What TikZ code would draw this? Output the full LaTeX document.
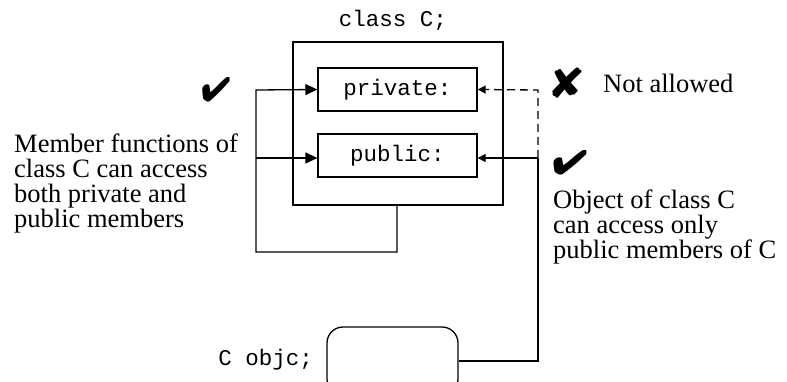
\documentclass[tikz,border=0pt]{standalone}
\usepackage{fontspec}
\setmainfont{Liberation Serif}
\setmonofont{Liberation Mono}
\usepackage{pifont}
\usetikzlibrary{arrows.meta}

% a heavier dingbat: the glyph set twice, slightly offset
\newcommand{\heavyding}[1]{\rlap{\ding{#1}}\hspace{0.9pt}\ding{#1}}

\begin{document}
\begin{tikzpicture}[x=1pt, y=-1pt,
  code/.style={font=\ttfamily\fontsize{22.5}{24}\selectfont},
  note/.style={font=\fontsize{26.5}{25}\selectfont, align=left, inner sep=0pt},
  member/.style={draw, wire, code, inner sep=0pt, minimum width=159pt, minimum height=43pt},
  sign/.style={inner sep=0pt, font=\fontsize{34}{34}\selectfont},
  bigtip/.style={-{Triangle[length=12pt, width=11pt]}},
  smalltip/.style={-{Triangle[length=8pt, width=8pt]}},
  wire/.style={line width=1.3pt}]
  \useasboundingbox (0,0) rectangle (787,382);
  \clip (0,0) rectangle (787,382);

  % class C with its two access sections
  \node[code, anchor=base] (title) at (393,27) {class C;};
  \node[draw, wire, inner sep=0pt, minimum width=210pt, minimum height=163pt] (cls) at (398,123.5) {};
  \node[member] (priv) at (397.5,89.5) {private:};
  \node[member] (pub) at (397.5,155.5) {public:};

  % object of class C
  \node[draw, wire, rounded corners=16pt, inner sep=0pt, minimum width=131pt, minimum height=68pt] (obj) at (392.5,361) {};
  \node[code, anchor=east, inner sep=0pt] (objlabel) at (313,360) {C objc;};

  % member functions reach both sections
  \coordinate (la) at (256,90);
  \coordinate (lb) at (256,158);
  \coordinate (lc) at (397,252);
  \coordinate (ld) at (256,252);
  \draw[wire, bigtip] (cls.south -| lc) -- (lc) -- (ld) -- (la) -- (priv.west);
  \draw[wire, bigtip] (lb) -- (lb -| pub.west);

  % the object reaches only the public section
  \coordinate (rt) at (538,90);
  \coordinate (rm) at (538,158);
  \draw[wire] (obj.east) -| (rm);
  \draw[wire, smalltip] (rm) -- (rm -| pub.east);
  \draw[wire, dash pattern=on 8pt off 5pt, smalltip] (rm) -- (rt) -- (priv.east);

  % check marks, cross and notes
  \node[sign] (okleft) at (216,90) {\heavyding{52}};
  \node[sign, xscale=1.2] (okright) at (570,163) {\heavyding{52}};
  \node[sign, font=\fontsize{42}{42}\selectfont, xscale=1.12] (no) at (567,83) {\heavyding{56}};
  \node[note, anchor=base west] (notallowed) at (603,93) {Not allowed};
  \node[note, anchor=north west] (leftnote) at (14,134)
    {Member functions of\\class C can access\\both private and\\public members};
  \node[note, anchor=north west] (rightnote) at (553,190)
    {Object of class C\\can access only\\public members of C};
\end{tikzpicture}
\end{document}
